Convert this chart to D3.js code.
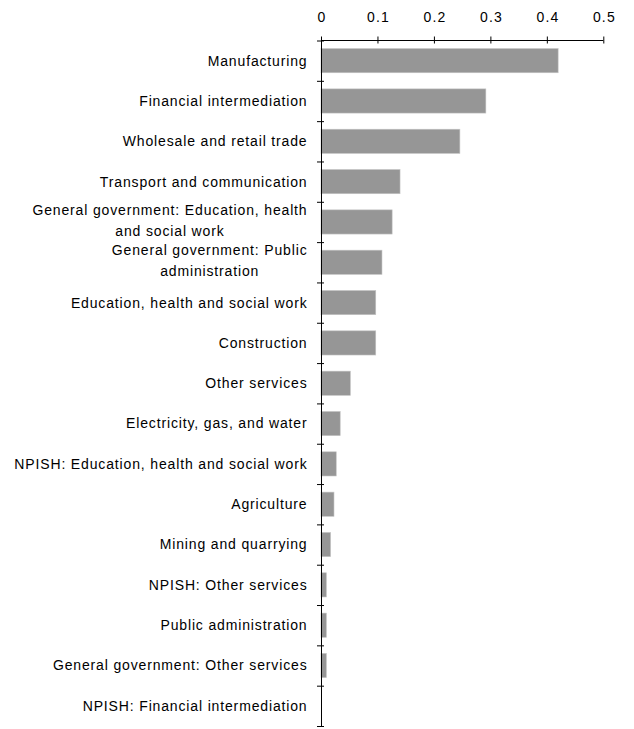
<!DOCTYPE html>
<html>
<head>
<meta charset="utf-8">
<script src="https://cdn.jsdelivr.net/npm/d3@7"></script>
<style>
  html, body { margin: 0; padding: 0; background: #fff; }
  svg { display: block; }
  text { font-family: "Liberation Sans", Arial, sans-serif; fill: #000; }
</style>
</head>
<body>
<svg id="chart" width="634" height="729"></svg>
<script>
const categories = [
  "Manufacturing",
  "Financial intermediation",
  "Wholesale and retail trade",
  "Transport and communication",
  "General government: Education, health\nand social work",
  "General government: Public\nadministration",
  "Education, health and social work",
  "Construction",
  "Other services",
  "Electricity, gas, and water",
  "NPISH: Education, health and social work",
  "Agriculture",
  "Mining and quarrying",
  "NPISH: Other services",
  "Public administration",
  "General government: Other services",
  "NPISH: Financial intermediation"
];
const values = [0.42, 0.292, 0.246, 0.14, 0.126, 0.108, 0.097, 0.097, 0.052, 0.034, 0.027, 0.023, 0.017, 0.0095, 0.0095, 0.0095, 0];
const xTicks = [0, 0.1, 0.2, 0.3, 0.4, 0.5];

const LS = 0.85; // letter spacing

const svg = d3.select("#chart");
const x = d3.scaleLinear().domain([0, 0.5]).range([321, 603.3]);
const y = d3.scaleBand().domain(categories).range([40.5, 726]).paddingInner(0.4).paddingOuter(0.2);
const yEdge = d3.scaleLinear().domain([0, categories.length]).range([40.5, 726]);

// bars
svg.append("g").selectAll("rect").data(categories).join("rect")
  .attr("x", x(0))
  .attr("y", d => y(d))
  .attr("width", (d, i) => x(values[i]) - x(0))
  .attr("height", y.bandwidth())
  .attr("fill", "#969696")
  .attr("stroke", "#c4c4c4")
  .attr("stroke-width", 0.6);

// x axis (top)
const xg = svg.append("g").attr("transform", "translate(0,40.5)")
  .call(d3.axisTop(x).tickValues(xTicks).tickFormat(d => d === 0 ? "0" : d3.format(".1f")(d)).tickSize(4).tickPadding(15));
xg.selectAll(".tick line").attr("y1", 3).attr("stroke", "#000");
xg.select(".domain").attr("d", `M${x(0)},0H${x(0.5)}`).attr("stroke", "#000");
xg.selectAll(".tick text").attr("font-size", 14).attr("font-family", "Liberation Sans, Arial, sans-serif")
  .attr("letter-spacing", 1.2).attr("dx", 0.6);

// y axis with ticks between categories
const yg = svg.append("g").attr("transform", `translate(${x(0)},0)`)
  .call(d3.axisLeft(yEdge).tickValues(d3.range(categories.length + 1)).tickFormat("").tickSize(4).tickSizeOuter(0));
yg.selectAll(".tick line").attr("x1", 3).attr("stroke", "#000");
yg.select(".domain").attr("stroke", "#000");

// category labels
const labelG = svg.append("g");
categories.forEach(c => {
  const lines = c.split("\n");
  const cy = y(c) + y.bandwidth() / 2;
  const t = labelG.append("text")
    .attr("font-size", 14)
    .attr("letter-spacing", LS)
    .attr("text-anchor", lines.length > 1 ? "middle" : "end");
  if (lines.length === 1) {
    t.attr("x", 307.5).attr("y", cy).attr("dy", "0.35em").text(c);
  } else {
    const tmp = labelG.append("text").attr("font-size", 14).attr("letter-spacing", LS).text(lines[0]);
    const w = d3.max(lines, l => { tmp.text(l); return tmp.node().getComputedTextLength(); });
    tmp.remove();
    const cx = 307.5 - w / 2;
    lines.forEach((l, k) => {
      t.append("tspan").attr("x", cx).attr("y", cy - 1.5 + (k - (lines.length - 1) / 2) * 21).attr("dy", "0.35em").text(l);
    });
  }
});
</script>
</body>
</html>
